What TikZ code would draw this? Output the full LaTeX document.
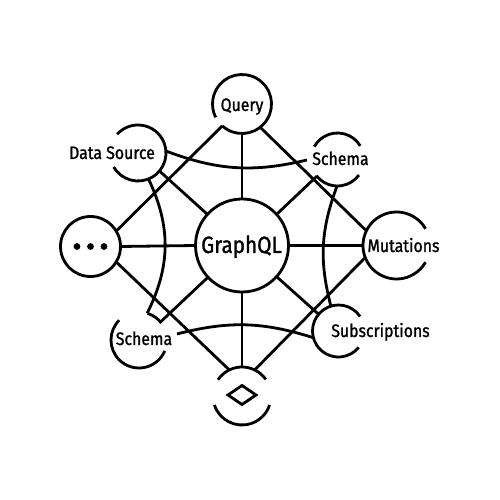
\documentclass[tikz,border=0pt]{standalone}
\usepackage{fontspec}
\setmainfont{Fira Sans}[FakeStretch=0.88,FakeBold=1.2]
\begin{document}
\begin{tikzpicture}[x=1pt,y=1pt,
  ln/.style={line width=2.8pt},
  hub/.style={circle,inner sep=0pt,outer sep=0pt,minimum size=#1},
  lbl/.style={inner sep=0pt,outer sep=0pt,font=\fontsize{18}{18}\selectfont,anchor=base},
  dotm/.style={circle,fill,inner sep=0pt,outer sep=0pt,minimum size=6.8pt}]
\useasboundingbox[fill=white] (0,0) rectangle (500,500);

% hubs
\node[hub=93pt,draw,ln] (G) at (242,254.5) {};
\node[hub=59pt] (Q) at (242,396) {};
\node[hub=56pt] (DS) at (138,347) {};
\node[hub=53pt] (ST) at (337.5,340.5) {};
\node[hub=67pt] (M) at (396.5,254.5) {};
\node[hub=52pt] (SUB) at (338.5,169) {};
\node[hub=58pt] (D) at (242,104) {};
\node[hub=56pt] (SB) at (139,160) {};
\node[hub=60pt,draw,ln] (DOT) at (90.5,253.5) {};

% broken circles
\draw[ln] (Q.228) arc[start angle=228,end angle=567,radius=29.5pt];
\draw[ln] (DS.-150) arc[start angle=-150,end angle=138,radius=28pt];
\draw[ln] (ST.31) arc[start angle=31,end angle=151,radius=26.5pt];
\draw[ln] (ST.218) arc[start angle=218,end angle=324,radius=26.5pt];
\draw[ln] (M.30) arc[start angle=30,end angle=330,radius=33.5pt];
\draw[ln] (SUB.34) arc[start angle=34,end angle=321,radius=26pt];
\draw[ln] (D.35) arc[start angle=35,end angle=146,radius=29pt];
\draw[ln] (D.198) arc[start angle=198,end angle=342,radius=29pt];
\draw[ln] (SB.37) arc[start angle=37,end angle=72,radius=28pt];
\draw[ln] (SB.135) arc[start angle=135,end angle=337,radius=28pt];

% labels
\node[lbl] (tQ) at (242,389) {Query};
\node[lbl] (tDS) at (112,341) {Data Source};
\node[lbl] (tST) at (340.5,335) {Schema};
\node[lbl] (tM) at (403.5,248) {Mutations};
\node[lbl] (tSUB) at (380.5,163) {Subscriptions};
\node[lbl] (tSB) at (144,155) {Schema};
\node[lbl,font=\fontsize{23.5}{24}\selectfont] (tG) at (241.5,247) {GraphQL};

% dots and diamond
\node[dotm] (d1) at (77,253.5) {};
\node[dotm] (d2) at (90.5,253.5) {};
\node[dotm] (d3) at (104,253.5) {};
\draw[ln] (228,105) -- (242,114.5) -- (256,105) -- (242,95.5) -- cycle;

% spokes
\draw[ln] (G.90) -- (Q.270);
\draw[ln] (G.180) -- (DOT.0);
\draw[ln] (G.0) -- (M.180);
\draw[ln] (G.270) -- (D.90);
\draw[ln] (G.138) -- (DS.-40);
\draw[ln] (G.42) -- (ST.219);
\draw[ln] (G.-42.5) -- (SUB.140);
\draw[ln] (G.223) -- (SB.40);

% straight square
\draw[ln] (Q.228) -- (DOT.31);
\draw[ln] (Q.-52) -- (M.154);
\draw[ln] (M.201.6) -- (D.64);
\draw[ln] (D.116) -- (DOT.-31);

% curved square
\coordinate (stL) at (307,340);
\coordinate (sbR) at (177,166);
\draw[ln] (DS.4) to[bend right=17] (stL);
\draw[ln] (ST.269) to[bend right=17.5] (SUB.107);
\draw[ln] (SUB.195) to[bend right=16] (sbR);
\draw[ln] (SB.73) to[bend right=26] (DS.-68);
\end{tikzpicture}
\end{document}
